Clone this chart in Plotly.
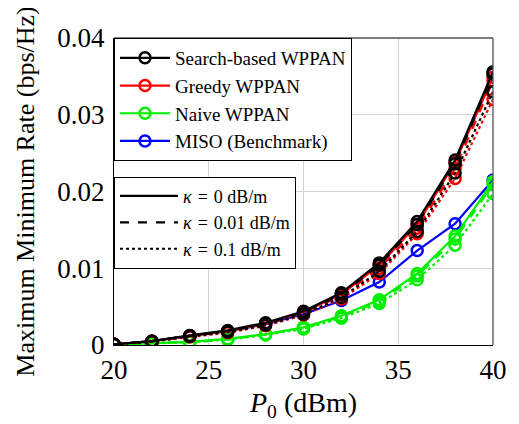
import plotly.graph_objects as go

p0 = [20, 22, 24, 26, 28, 30, 32, 34, 36, 38, 40]

search_k0 = [0.0001, 0.0005, 0.00125, 0.0019, 0.0029, 0.0044, 0.0068, 0.0107, 0.0161, 0.0241, 0.0356]
search_k001 = [0.0001, 0.0005, 0.0012, 0.0018, 0.0028, 0.0043, 0.0066, 0.0104, 0.0157, 0.0236, 0.0353]
search_k01 = [0.0001, 0.00045, 0.0011, 0.0017, 0.0026, 0.0040, 0.0062, 0.0096, 0.0148, 0.0224, 0.0330]

greedy_k0 = [0.0001, 0.0005, 0.0012, 0.0018, 0.0028, 0.0043, 0.0066, 0.0104, 0.0157, 0.0238, 0.0349]
greedy_k001 = [0.0001, 0.00048, 0.00115, 0.00175, 0.0027, 0.0042, 0.0064, 0.0100, 0.0152, 0.0230, 0.0344]
greedy_k01 = [0.0001, 0.00043, 0.00105, 0.0016, 0.0025, 0.0039, 0.0060, 0.0093, 0.0145, 0.0217, 0.0320]

naive_k0 = [0.00005, 0.0002, 0.0004, 0.0008, 0.0014, 0.0023, 0.0038, 0.0059, 0.0093, 0.0142, 0.0213]
naive_k001 = [0.00005, 0.0002, 0.0004, 0.0007, 0.0014, 0.0022, 0.0037, 0.0057, 0.0090, 0.0138, 0.0209]
naive_k01 = [0.00004, 0.00018, 0.00035, 0.0007, 0.0013, 0.0021, 0.0035, 0.0054, 0.0085, 0.0130, 0.0197]

miso = [0.0001, 0.0005, 0.0012, 0.0018, 0.0027, 0.0040, 0.0058, 0.0082, 0.0123, 0.0158, 0.0215]

method_names = ["Search-based WPPAN", "Greedy WPPAN", "Naive WPPAN", "MISO (Benchmark)"]
kappa_labels = ["<i>κ</i>\u2004=\u20040 dB/m", "<i>κ</i>\u2004=\u20040.01 dB/m", "<i>κ</i>\u2004=\u20040.1 dB/m"]
y_ticks = [0, 0.01, 0.02, 0.03, 0.04]
y_ticktext = ["0", "0.01", "0.02", "0.03", "0.04"]
x_ticks = [20, 25, 30, 35, 40]

FONT = "Liberation Serif, DejaVu Serif, serif"
dashes = ["solid", "dash", "dot"]

fig = go.Figure()

def add_series(ys, color, dash, name=None, show=False, rank=None):
    fig.add_trace(go.Scatter(
        x=p0, y=ys, mode="lines+markers",
        line=dict(color=color, width=2.2, dash=dash),
        marker=dict(symbol="circle-open", size=11, color=color, line=dict(width=2.5, color=color)),
        name=name if name else "", showlegend=show, legend="legend",
        legendrank=rank if rank else 1000,
    ))

# draw order: blue, green, red, black
add_series(miso, "#0000ff", "solid", method_names[3], True, 4)
for ys, d, i in zip([naive_k0, naive_k001, naive_k01], dashes, range(3)):
    add_series(ys, "#00ee00", d, method_names[2] if i == 0 else None, i == 0, 3)
for ys, d, i in zip([greedy_k0, greedy_k001, greedy_k01], dashes, range(3)):
    add_series(ys, "#ff0000", d, method_names[1] if i == 0 else None, i == 0, 2)
for ys, d, i in zip([search_k0, search_k001, search_k01], dashes, range(3)):
    add_series(ys, "#000000", d, method_names[0] if i == 0 else None, i == 0, 1)

for lab, d in zip(kappa_labels, dashes):
    fig.add_trace(go.Scatter(
        x=[None], y=[None], mode="lines",
        line=dict(color="black", width=2.2, dash=d),
        name=lab, showlegend=True, legend="legend2",
    ))

# page body has an 8px default margin: the figure is sized/offset to compensate
fig.update_layout(
    width=511, height=416,
    margin=dict(l=106, r=23, t=30, b=74),
    plot_bgcolor="white", paper_bgcolor="white",
    font=dict(family=FONT, color="black", size=19),
    legend=dict(x=0, y=1, xanchor="left", yanchor="top",
                bordercolor="black", borderwidth=1, bgcolor="white",
                font=dict(family=FONT, size=19), itemwidth=50,
                traceorder="normal"),
    legend2=dict(x=0, y=0.548, xanchor="left", yanchor="top",
                 bordercolor="black", borderwidth=1, bgcolor="white",
                 font=dict(family=FONT, size=18), itemwidth=58),
    xaxis=dict(range=[20, 40], tickvals=x_ticks, showgrid=True, gridcolor="#d3d3d3",
               gridwidth=1, showline=True, linecolor="black", linewidth=1.3,
               ticks="", zeroline=False, tickfont=dict(size=27, family=FONT),
               automargin=True,
               title=dict(text="<i>P</i><sub>0</sub> (dBm)", font=dict(size=28, family=FONT), standoff=8)),
    yaxis=dict(range=[0, 0.04], tickvals=y_ticks, ticktext=y_ticktext, showgrid=True,
               gridcolor="#d3d3d3", gridwidth=1, showline=True, linecolor="black",
               linewidth=1.3, ticks="", zeroline=False, tickfont=dict(size=27, family=FONT),
               ticklabelstandoff=3, automargin=False,
               title=dict(text="Maximum Minimum Rate (bps/Hz)", font=dict(size=26, family=FONT))),
    shapes=[
        dict(type="line", xref="paper", yref="paper", x0=0, x1=1, y0=1, y1=1,
             line=dict(color="#555555", width=1.3)),
        dict(type="line", xref="paper", yref="paper", x0=1, x1=1, y0=0, y1=1,
             line=dict(color="#555555", width=1.3)),
    ],
)

fig.write_html("out.html")
